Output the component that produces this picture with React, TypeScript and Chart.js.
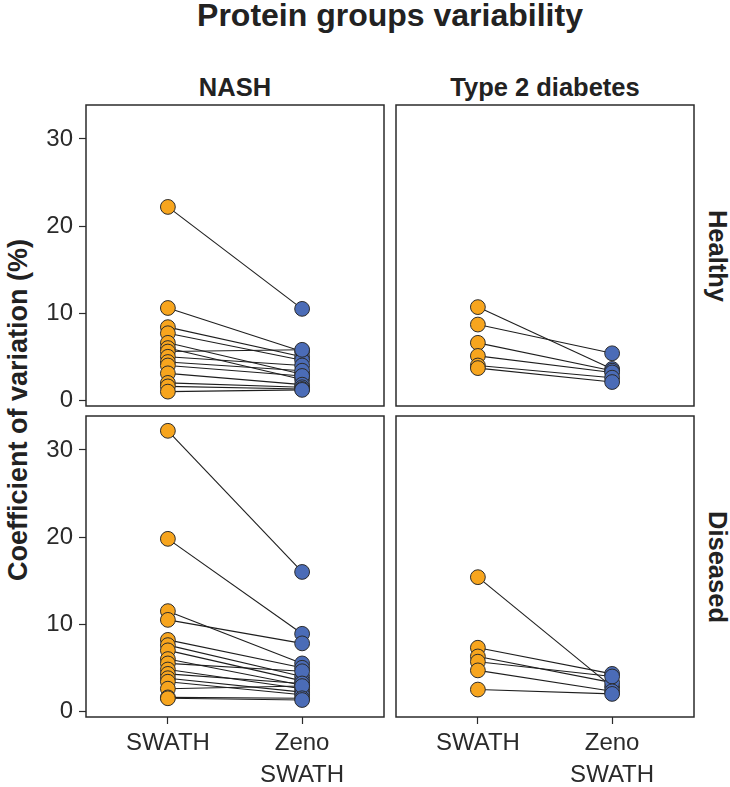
import React, { useEffect, useRef } from 'react';
import { Chart, registerables } from 'chart.js';
Chart.register(...registerables);

// ---- data ----
const methodLabels: (string | string[])[] = ['SWATH', ['Zeno', 'SWATH']];
const methodPositions = [1, 2];
const yTickValues = [0, 10, 20, 30];

const nashHealthySwath = [22.2, 10.6, 8.4, 7.7, 6.6, 6.0, 5.6, 5.0, 4.4, 4.0, 3.1, 2.0, 1.6, 1.0];
const nashHealthyZeno = [10.5, 5.6, 5.0, 4.6, 3.0, 2.4, 5.8, 4.0, 3.4, 2.8, 1.8, 1.5, 1.3, 1.2];

const t2dHealthySwath = [10.7, 8.7, 6.6, 5.1, 4.0, 3.7];
const t2dHealthyZeno = [3.6, 5.4, 3.4, 3.2, 2.6, 2.1];

const nashDiseasedSwath = [32.2, 19.8, 11.5, 10.5, 8.2, 7.6, 7.0, 6.0, 5.5, 4.8, 4.3, 3.8, 3.4, 2.6, 1.6, 1.5];
const nashDiseasedZeno = [16.0, 8.9, 5.5, 7.8, 5.0, 4.0, 3.5, 3.0, 4.6, 2.6, 3.2, 2.2, 1.9, 2.9, 1.5, 1.3];

const t2dDiseasedSwath = [15.4, 7.3, 6.3, 5.7, 4.7, 2.5];
const t2dDiseasedZeno = [2.8, 4.3, 3.3, 4.0, 2.3, 2.0];

// ---- style ----
const FONT = "'Liberation Sans', Arial, Helvetica, sans-serif";
const ORANGE = '#F7A51E';
const BLUE = '#4B6CB7';
const INK = '#2b2b2b';
const Y_MIN = -0.65;
const Y_MAX = 33.9;
const X_MIN = 0.39;
const X_MAX = 2.61;

const borderPlugin = {
  id: 'panelBorder',
  afterDatasetsDraw(chart: any) {
    const { ctx, chartArea } = chart;
    ctx.save();
    ctx.strokeStyle = INK;
    ctx.lineWidth = 1.5;
    ctx.strokeRect(chartArea.left, chartArea.top, chartArea.right - chartArea.left, chartArea.bottom - chartArea.top);
    ctx.restore();
  },
};

type PanelProps = {
  swath: number[];
  zeno: number[];
  areaLeft: number;
  areaTop: number;
  showY: boolean;
  showX: boolean;
};

const AREA_W = 298;
const AREA_H = 301;
const PAD = 24;
const Y_AXIS_W = 80;
const X_AXIS_H = 66;

function Panel({ swath, zeno, areaLeft, areaTop, showY, showX }: PanelProps) {
  const ref = useRef<HTMLCanvasElement>(null);
  const leftSpace = showY ? Y_AXIS_W : PAD;
  const bottomSpace = showX ? X_AXIS_H : PAD;
  const cLeft = areaLeft - leftSpace;
  const cTop = areaTop - PAD;
  const cW = leftSpace + AREA_W + PAD;
  const cH = PAD + AREA_H + bottomSpace;

  useEffect(() => {
    if (!ref.current) return;
    const lineSets = swath.map((s, i) => ({
      type: 'scatter' as const,
      data: [
        { x: methodPositions[0], y: s },
        { x: methodPositions[1], y: zeno[i] },
      ],
      showLine: true,
      borderColor: '#1e1e1e',
      borderWidth: 1.1,
      pointRadius: 0,
      pointHoverRadius: 0,
    }));
    const pointStyle = (color: string) => ({
      backgroundColor: color,
      borderColor: INK,
      borderWidth: 1,
      pointRadius: 7.4,
      pointHoverRadius: 7.4,
    });
    const chart = new Chart(ref.current, {
      type: 'scatter',
      data: {
        datasets: [
          { data: swath.map((v) => ({ x: methodPositions[0], y: v })), ...pointStyle(ORANGE) },
          { data: zeno.map((v) => ({ x: methodPositions[1], y: v })), ...pointStyle(BLUE) },
          ...lineSets,
        ] as any,
      },
      options: {
        animation: false,
        responsive: false,
        maintainAspectRatio: false,
        events: [],
        layout: {
          padding: { left: showY ? 0 : PAD, top: PAD, right: PAD, bottom: showX ? 0 : PAD },
        },
        plugins: { legend: { display: false }, tooltip: { enabled: false }, title: { display: false } },
        scales: {
          x: {
            type: 'linear',
            display: showX,
            min: X_MIN,
            max: X_MAX,
            afterBuildTicks: (axis: any) => {
              axis.ticks = methodPositions.map((v) => ({ value: v }));
            },
            afterFit: (axis: any) => {
              axis.height = showX ? X_AXIS_H : 0;
            },
            grid: { drawOnChartArea: false, drawTicks: true, tickLength: 7, tickColor: INK, tickWidth: 1.2 },
            border: { display: false },
            ticks: {
              padding: 3,
              color: '#2a2a2a',
              font: { family: FONT, size: 24, lineHeight: 1.33 },
              maxRotation: 0,
              autoSkip: false,
              callback: (v: any) => {
                const i = methodPositions.indexOf(Number(v));
                return i >= 0 ? (methodLabels[i] as any) : '';
              },
            },
          },
          y: {
            type: 'linear',
            display: showY,
            min: Y_MIN,
            max: Y_MAX,
            afterBuildTicks: (axis: any) => {
              axis.ticks = yTickValues.map((v) => ({ value: v }));
            },
            afterFit: (axis: any) => {
              axis.width = showY ? Y_AXIS_W : 0;
            },
            grid: { drawOnChartArea: false, drawTicks: true, tickLength: 7, tickColor: INK, tickWidth: 1.2 },
            border: { display: false },
            ticks: {
              padding: 6,
              color: '#2a2a2a',
              font: { family: FONT, size: 24 },
              autoSkip: false,
              callback: (v: any) => String(v),
            },
          },
        },
      },
      plugins: [borderPlugin],
    });
    return () => chart.destroy();
  }, [swath, zeno, showX, showY]);

  return (
    <canvas
      ref={ref}
      width={cW}
      height={cH}
      style={{ position: 'absolute', left: cLeft, top: cTop, width: cW, height: cH }}
    />
  );
}

const textBase: React.CSSProperties = {
  position: 'absolute',
  fontFamily: FONT,
  fontWeight: 'bold',
  color: '#222',
  lineHeight: 1,
  whiteSpace: 'nowrap',
};

export default function App() {
  const L1 = 86, L2 = 396, T1 = 105, T2 = 416;
  return (
    <div style={{ position: 'absolute', left: 0, top: 0, width: 730, height: 787, background: '#fff', overflow: 'hidden' }}>
      <div style={{ ...textBase, left: 0, width: 780, top: -1, textAlign: 'center', fontSize: 32 }}>
        Protein groups variability
      </div>
      <div style={{ ...textBase, left: L1, width: AREA_W, top: 75, textAlign: 'center', fontSize: 25.5 }}>NASH</div>
      <div style={{ ...textBase, left: L2, width: AREA_W, top: 75, textAlign: 'center', fontSize: 25.5 }}>Type 2 diabetes</div>
      <div style={{ ...textBase, left: 717, top: T1 + AREA_H / 2, fontSize: 25.5, transform: 'translate(-50%, -50%) rotate(90deg)' }}>
        Healthy
      </div>
      <div style={{ ...textBase, left: 717, top: T2 + AREA_H / 2, fontSize: 25.5, transform: 'translate(-50%, -50%) rotate(90deg)' }}>
        Diseased
      </div>
      <div style={{ ...textBase, left: 18, top: 410, fontSize: 27, transform: 'translate(-50%, -50%) rotate(-90deg)' }}>
        Coefficient of variation (%)
      </div>
      <Panel swath={nashHealthySwath} zeno={nashHealthyZeno} areaLeft={L1} areaTop={T1} showY={true} showX={false} />
      <Panel swath={t2dHealthySwath} zeno={t2dHealthyZeno} areaLeft={L2} areaTop={T1} showY={false} showX={false} />
      <Panel swath={nashDiseasedSwath} zeno={nashDiseasedZeno} areaLeft={L1} areaTop={T2} showY={true} showX={true} />
      <Panel swath={t2dDiseasedSwath} zeno={t2dDiseasedZeno} areaLeft={L2} areaTop={T2} showY={false} showX={true} />
    </div>
  );
}
